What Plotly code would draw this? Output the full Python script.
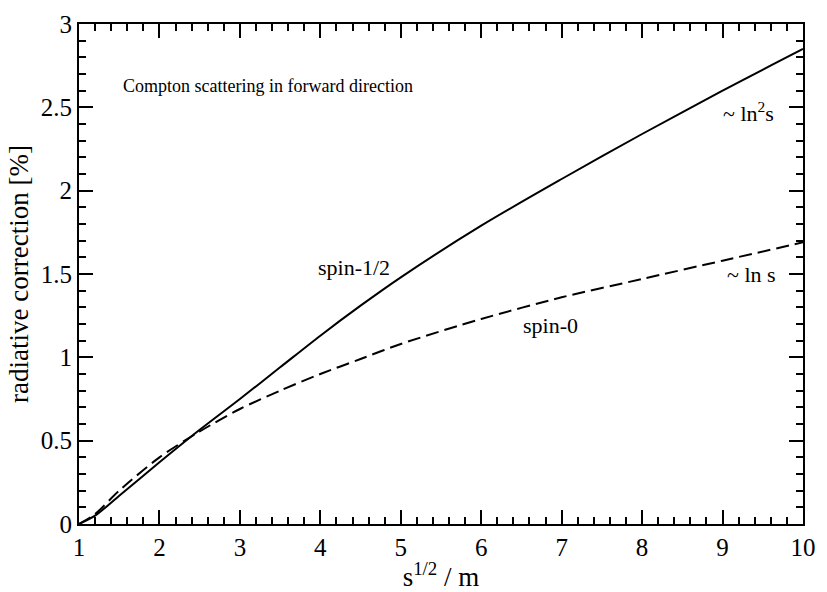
import plotly.graph_objects as go

x_vals = [1, 1.2, 1.5, 2, 2.5, 3, 3.5, 4, 4.5, 5, 6, 7, 8, 9, 10]
spin_half = [0, 0.05, 0.17, 0.37, 0.565, 0.75, 0.94, 1.13, 1.31, 1.48, 1.79, 2.07, 2.34, 2.60, 2.85]
spin_zero = [0, 0.06, 0.20, 0.40, 0.555, 0.69, 0.80, 0.90, 0.99, 1.08, 1.23, 1.36, 1.47, 1.58, 1.69]

FONT = "Liberation Serif, Times New Roman, serif"

fig = go.Figure()
fig.add_trace(go.Scatter(x=x_vals, y=spin_half, mode="lines",
                         line=dict(color="black", width=2, shape="spline", smoothing=0.8), showlegend=False))
fig.add_trace(go.Scatter(x=x_vals, y=spin_zero, mode="lines",
                         line=dict(color="black", width=2, dash="13px,6px", shape="spline", smoothing=0.8), showlegend=False))

axis_common = dict(
    showgrid=False, zeroline=False, showline=True, linecolor="black", linewidth=2,
    mirror="allticks", ticks="inside", ticklen=14, tickwidth=1.5, tickcolor="black",
    tickfont=dict(family=FONT, size=25, color="black"), ticklabeloverflow="allow",
)
fig.update_xaxes(range=[1, 10], dtick=1, tick0=1,
                 minor=dict(dtick=0.2, ticklen=7, tickwidth=1.5, tickcolor="black", ticks="inside"),
                 title=dict(text="s<sup>1/2</sup> / m", font=dict(family=FONT, size=27, color="black"), standoff=0),
                 **axis_common)
fig.update_yaxes(range=[0, 3], dtick=0.5, tick0=0, tickformat="~g",
                 minor=dict(dtick=0.1, ticklen=7, tickwidth=1.5, tickcolor="black", ticks="inside"),
                 title=dict(text="radiative correction [%]", font=dict(family=FONT, size=27, color="black"), standoff=4),
                 **axis_common)

fig.add_annotation(x=1.52, y=2.63, text="Compton scattering in forward direction", showarrow=False,
                   xanchor="left", font=dict(family=FONT, size=18, color="black"))
lab_font = dict(family=FONT, size=22, color="black")
fig.add_annotation(x=4.42, y=1.54, text="spin-1/2", showarrow=False, font=lab_font)
fig.add_annotation(x=6.86, y=1.19, text="spin-0", showarrow=False, font=lab_font)
fig.add_annotation(x=9.32, y=2.47, text="~ ln<sup>2</sup>s", showarrow=False, font=lab_font)
fig.add_annotation(x=9.36, y=1.50, text="~ ln s", showarrow=False, font=lab_font)

fig.update_layout(
    width=827, height=592,
    margin=dict(l=79, r=13, t=11, b=68),
    paper_bgcolor="white", plot_bgcolor="white",
    font=dict(family=FONT, color="black"),
)
fig.write_html("out.html")
